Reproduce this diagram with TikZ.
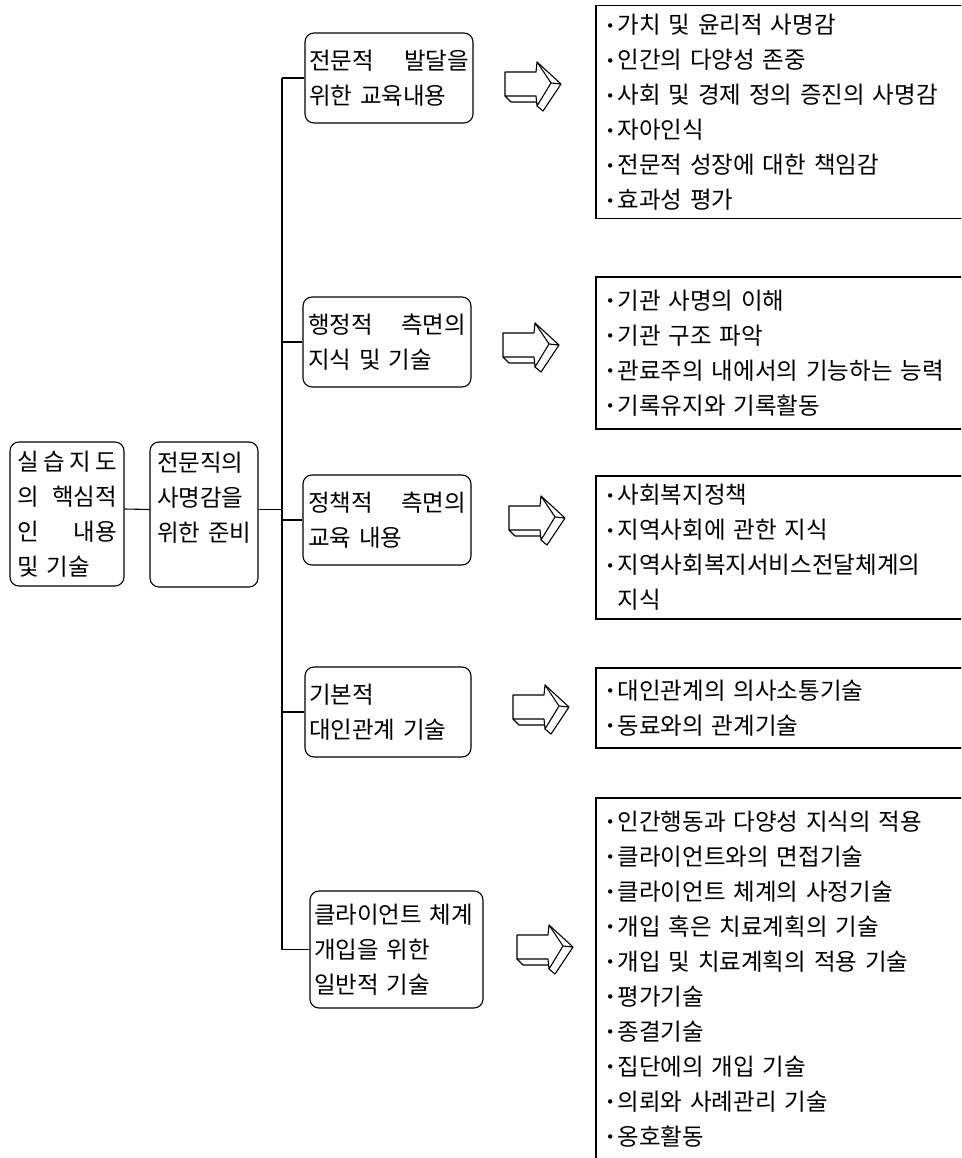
\documentclass[tikz,border=0pt]{standalone}
\usepackage{fontspec}
\setmainfont{Noto Sans CJK KR}
\newfontfamily\dejavu{DejaVu Sans}
\newcommand\jln[2]{\makebox[\hsize]{#1\hfill #2}}
\newcommand\rbul{{\dejavu\fontsize{15}{15}\selectfont\raisebox{2.5pt}{•}}\hspace{3pt}}
\begin{document}
\begin{tikzpicture}[x=1pt,y=-1pt,
  every node/.style={font=\fontsize{23.5}{35}\selectfont, inner sep=0pt},
  rbox/.style={draw, rounded corners=9pt, line width=1.1pt, align=left},
  listbox/.style={draw, line width=1.5pt, align=left, anchor=north west,
    minimum width=390pt, text width=370pt, inner xsep=8pt},
  conn/.style={line width=1.1pt},
  blockarrow/.pic={
    \draw[line width=1.1pt, line join=round, fill=white]
      (0,-12) -- (31,-12) -- (32,-22) -- (46,-1) -- (32,22) -- (31,12) -- (0,12) -- cycle;
    \draw[line width=1.1pt, line join=round]
      (32,-22) -- (56,0) -- (38,27) -- (32,22)
      (46,-1) -- (56,0)
      (0,12) -- (6,18) -- (31,18);
  }]
\useasboundingbox (0,0) rectangle (961,1158);
\clip (0,0) rectangle (961,1158);

% left boxes
\node[rbox, minimum width=114pt, minimum height=144pt, text width=100pt, inner xsep=7pt]
  (core) at (67,514) {\makebox[\hsize]{실\hfill 습\hfill 지\hfill 도}\\ \jln{의}{핵심적}\\ \jln{인}{내용}\\ 및 기술};
\node[rbox, minimum width=108pt, minimum height=145pt, text width=94pt, inner xsep=7pt]
  (prep) at (204,514.5) {\mbox{전문직의}\\\mbox{사명감을}\\\mbox{위한 준비}\\\mbox{}};

% middle boxes
\node[rbox, minimum width=168pt, minimum height=90pt, text width=160pt, inner xsep=4pt]
  (ma) at (389,78) {\jln{전문적}{발달을}\\위한 교육내용};
\node[rbox, minimum width=168pt, minimum height=90pt, text width=158pt, inner xsep=5pt]
  (mb) at (387,342) {\jln{행정적}{측면의}\\지식 및 기술};
\node[rbox, minimum width=168pt, minimum height=90pt, text width=158pt, inner xsep=5pt]
  (mc) at (387,520) {\jln{정책적}{측면의}\\교육 내용};
\node[rbox, minimum width=166pt, minimum height=90pt, text width=158pt, inner xsep=4pt]
  (md) at (388,712) {기본적\\대인관계 기술};
\node[rbox, minimum width=173pt, minimum height=117pt, text width=165pt, inner xsep=4pt]
  (me) at (396.5,949.5) {클라이언트 체계\\개입을 위한\\일반적 기술};

% connectors
\coordinate (tr) at (282,509);
\draw[conn] ([yshift=5pt]core.east) -- ([yshift=5pt]prep.west);
\draw[conn] ([yshift=5pt]prep.east) -- ([yshift=5pt]prep.east -| tr);
\draw[conn] (ma.west -| tr) -- (me.west -| tr);
\draw[conn] (ma.west) -- (ma.west -| tr);
\draw[conn] (mb.west) -- (mb.west -| tr);
\draw[conn] (mc.west) -- (mc.west -| tr);
\draw[conn] (md.west) -- (md.west -| tr);
\draw[conn] (me.west) -- (me.west -| tr);

% arrows
\pic at (505,84) {blockarrow};
\pic at (503,345) {blockarrow};
\pic at (509,518) {blockarrow};
\pic at (513,707) {blockarrow};
\pic at (517,947) {blockarrow};

% right list boxes
\node[listbox, minimum height=213pt] (la) at (595,5)
  {\rbul 가치 및 윤리적 사명감\\ \rbul 인간의 다양성 존중\\ \rbul 사회 및 경제 정의 증진의 사명감\\ \rbul 자아인식\\ \rbul 전문적 성장에 대한 책임감\\ \rbul 효과성 평가};
\node[listbox, minimum height=152pt] (lb) at (595,276)
  {\rbul 기관 사명의 이해\\ \rbul 기관 구조 파악\\ \rbul 관료주의 내에서의 기능하는 능력\\ \rbul 기록유지와 기록활동};
\node[listbox, minimum height=143pt] (lc) at (595,475)
  {\rbul 사회복지정책\\ \rbul 지역사회에 관한 지식\\ \rbul 지역사회복지서비스전달체계의\\ \phantom{\rbul}지식};
\node[listbox, minimum height=80pt] (ld) at (595,667)
  {\rbul 대인관계의 의사소통기술\\ \rbul 동료와의 관계기술};
\node[listbox, minimum height=362pt] (le) at (595,797)
  {\rbul 인간행동과 다양성 지식의 적용\\ \rbul 클라이언트와의 면접기술\\ \rbul 클라이언트 체계의 사정기술\\ \rbul 개입 혹은 치료계획의 기술\\ \rbul 개입 및 치료계획의 적용 기술\\ \rbul 평가기술\\ \rbul 종결기술\\ \rbul 집단에의 개입 기술\\ \rbul 의뢰와 사례관리 기술\\ \rbul 옹호활동};
\end{tikzpicture}
\end{document}
